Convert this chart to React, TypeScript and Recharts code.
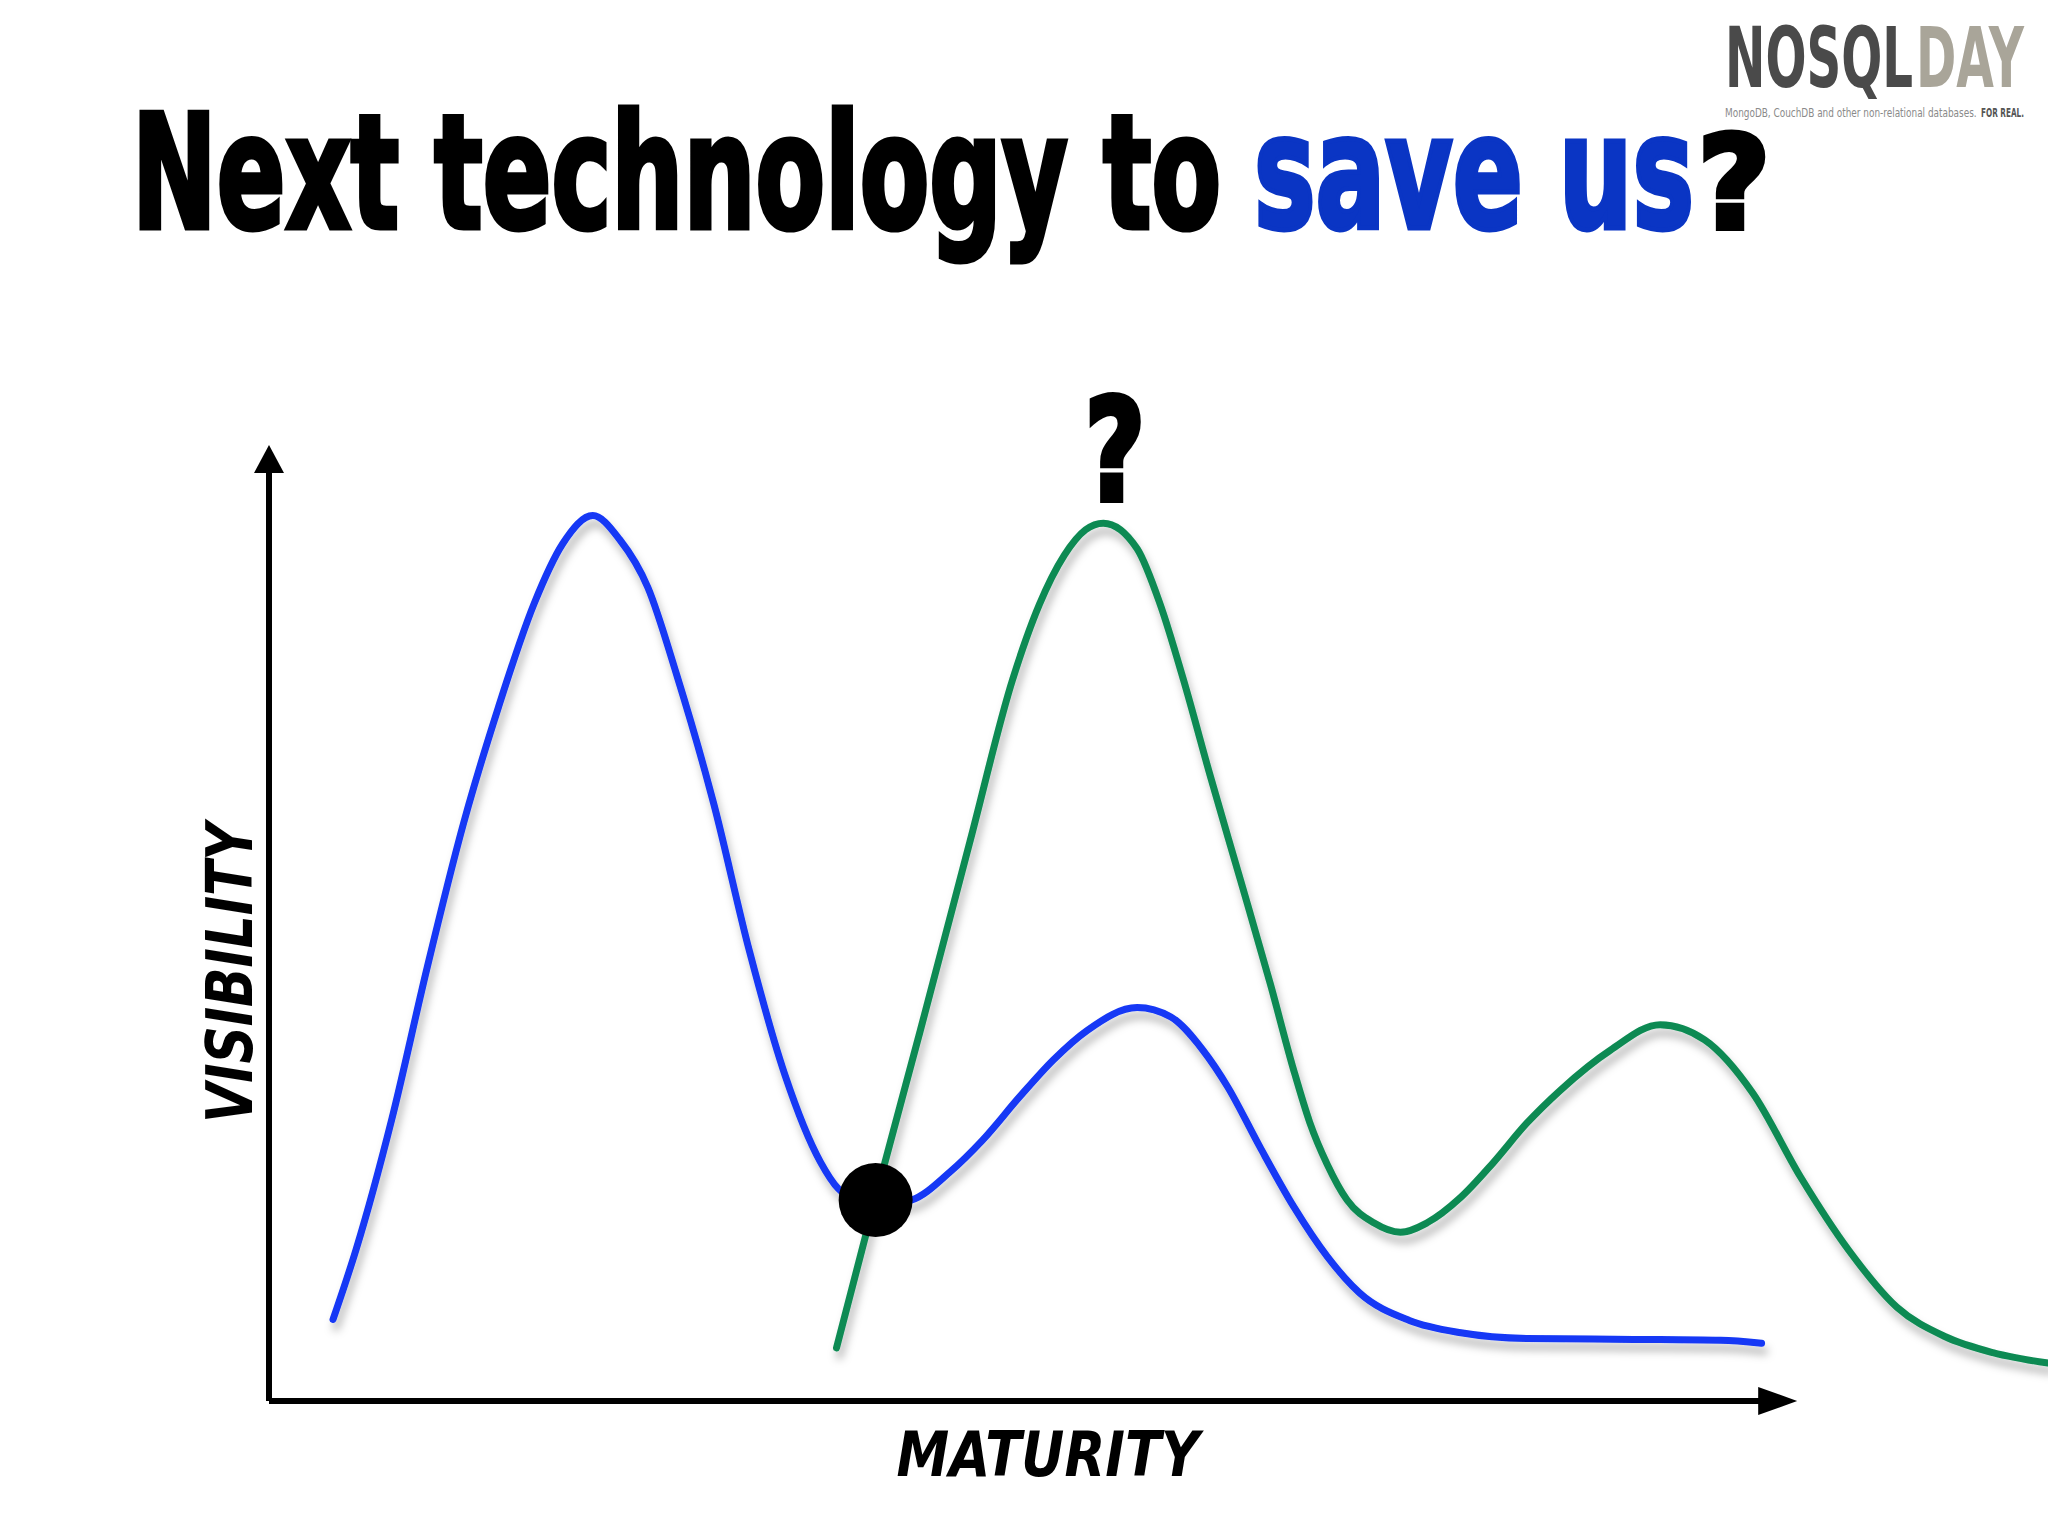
import React, { useLayoutEffect, useRef, useState } from 'react';
import { LineChart, Line, XAxis, YAxis, ReferenceLine, ReferenceDot } from 'recharts';

// maturity (x) / visibility (y), both on a 0-100 scale
const blueMaturity = [3.6, 4.9, 6.9, 8.9, 10.9, 12.9, 14.9, 16.5, 18.2, 19.7, 21.3, 22.9, 25.0, 27.0, 29.0, 31.0, 32.0, 33.9, 36.1, 38.3, 40.1, 42.2, 44.1, 46.0, 48.8, 50.7, 52.5, 53.9, 55.7, 57.6, 59.5, 61.3, 64.1, 67.0, 70.7, 76.7, 81.6, 83.9];
const blueVisibility = [8.6, 16.0, 29.7, 45.8, 60.7, 73.2, 84.1, 90.4, 93.4, 90.9, 85.8, 76.7, 63.0, 47.5, 34.4, 25.2, 22.4, 20.6, 21.2, 24.2, 27.5, 32.1, 36.0, 39.1, 41.5, 40.5, 37.0, 33.1, 26.8, 20.5, 15.2, 11.4, 8.5, 7.2, 6.6, 6.5, 6.4, 6.1];

const greenMaturity = [31.9, 34.1, 36.6, 39.4, 41.8, 43.3, 44.7, 45.9, 46.9, 48.8, 50.1, 51.4, 52.9, 54.6, 56.3, 57.6, 58.5, 59.5, 60.6, 62.1, 63.6, 65.1, 67.0, 68.8, 70.7, 72.6, 75.4, 78.2, 80.7, 83.4, 86.1, 88.8, 91.5, 94.2, 96.9, 100];
const greenVisibility = [5.6, 21.5, 39.0, 59.0, 76.1, 84.0, 89.2, 91.9, 92.6, 89.9, 84.0, 76.1, 66.0, 55.0, 43.9, 34.9, 29.4, 24.9, 21.2, 18.8, 17.8, 18.8, 21.5, 25.1, 29.3, 32.8, 37.0, 39.7, 38.1, 32.5, 23.6, 15.9, 9.9, 6.8, 5.1, 4.0];

// where the old hype curve meets the new one
const crossing = { m: 34.1, v: 21.2 };
const xAxisEnd = 85.9;

const blueData = blueMaturity.map((m, i) => ({ m, v: blueVisibility[i] }));
const greenData = greenMaturity.map((m, i) => ({ m, v: greenVisibility[i] }));

const BLUE = '#1437f5';
const GREEN = '#0b8a52';
const TITLE_BLUE = '#0a35c4';
const HEAVY = '"DejaVu Sans Condensed", "DejaVu Sans", sans-serif';
const HAND = '"DejaVu Sans", "Liberation Sans", sans-serif';

// squeezes a text horizontally so it takes the given width
function FitText({ x, y, width, rotate = 0, anchor = 'start', children, ...rest }: any) {
  const ref = useRef<SVGTextElement>(null);
  const [k, setK] = useState(1);
  useLayoutEffect(() => {
    if (ref.current) {
      const w = ref.current.getComputedTextLength();
      if (w > 0) setK(width / w);
    }
  }, [width, children]);
  return (
    <g transform={`translate(${x},${y}) rotate(${rotate}) scale(${k},1)`}>
      <text ref={ref} x={0} y={0} textAnchor={anchor} {...rest}>
        {children}
      </text>
    </g>
  );
}

const UpArrow = (p: any) => (
  <polygon points={`${p.cx},${p.cy - 8} ${p.cx - 15},${p.cy + 20} ${p.cx + 15},${p.cy + 20}`} fill="#000" />
);
const RightArrow = (p: any) => (
  <polygon points={`${p.cx},${p.cy} ${p.cx - 39},${p.cy - 14} ${p.cx - 39},${p.cy + 14}`} fill="#000" />
);

export default function App() {
  return (
    <div style={{ position: 'absolute', left: 0, top: 0, width: 2048, height: 1536, background: '#fff', overflow: 'hidden' }}>
      <svg width={2048} height={1536} style={{ position: 'absolute', left: 0, top: 0 }}>
        <defs>
          <filter id="lineShadow" x="-10%" y="-10%" width="120%" height="130%">
            <feDropShadow dx="3" dy="8" stdDeviation="4" floodColor="#000" floodOpacity="0.28" />
          </filter>
        </defs>
        {/* title */}
        <FitText x={132} y={228} width={1089} fontFamily={HEAVY} fontWeight="bold" fontSize={158} fill="#000" stroke="#000" strokeWidth={5}>
          Next technology to
        </FitText>
        <FitText x={1254} y={228} width={440} fontFamily={HEAVY} fontWeight="bold" fontSize={158} fill={TITLE_BLUE} stroke={TITLE_BLUE} strokeWidth={5}>
          save us
        </FitText>
        <FitText x={1698} y={228} width={72} fontFamily={HEAVY} fontWeight="bold" fontSize={128} fill="#000" stroke="#000" strokeWidth={6}>
          ?
        </FitText>
        {/* logo */}
        <FitText x={1725} y={87} width={188} fontFamily={HEAVY} fontWeight="bold" fontSize={84} fill="#4a4a4a">
          NOSQL
        </FitText>
        <FitText x={1916} y={87} width={108} fontFamily={HEAVY} fontWeight="bold" fontSize={84} fill="#a9a599">
          DAY
        </FitText>
        <FitText x={1725} y={117} width={252} fontFamily={HEAVY} fontSize={12.5} fill="#8a8a8a">
          MongoDB, CouchDB and other non-relational databases.
        </FitText>
        <FitText x={1981} y={117} width={43} fontFamily={HEAVY} fontWeight="bold" fontSize={12.5} fill="#555">
          FOR REAL.
        </FitText>
        {/* question mark over the new peak */}
        <FitText x={1085} y={500} width={60} fontFamily={HEAVY} fontWeight="bold" fontSize={141} fill="#000" stroke="#000" strokeWidth={6}>
          ?
        </FitText>
        {/* axis labels */}
        <FitText x={1048} y={1476} width={303} anchor="middle" fontFamily={HAND} fontWeight="bold" fontStyle="italic" fontSize={62} fill="#000">
          MATURITY
        </FitText>
        <FitText x={252} y={973} width={300} rotate={-90} anchor="middle" fontFamily={HAND} fontWeight="bold" fontStyle="italic" fontSize={64} fill="#000">
          VISIBILITY
        </FitText>
      </svg>
      <div style={{ position: 'absolute', left: 0, top: 0 }}>
        <LineChart width={2048} height={1536} margin={{ top: 453, right: 0, bottom: 135, left: 269 }}>
          <XAxis dataKey="m" type="number" domain={[0, 100]} hide allowDataOverflow />
          <YAxis type="number" domain={[0, 100]} hide allowDataOverflow />
          <ReferenceLine segment={[{ x: 0, y: 0 }, { x: 0, y: 100 }]} stroke="#000" strokeWidth={6} ifOverflow="visible" />
          <ReferenceLine segment={[{ x: 0, y: 0 }, { x: xAxisEnd - 2, y: 0 }]} stroke="#000" strokeWidth={6} ifOverflow="visible" />
          <ReferenceDot x={0} y={100} r={1} shape={UpArrow} ifOverflow="visible" />
          <ReferenceDot x={xAxisEnd} y={0} r={1} shape={RightArrow} ifOverflow="visible" />
          <Line data={blueData} dataKey="v" type="monotone" stroke={BLUE} strokeWidth={7} strokeLinecap="round" dot={false} isAnimationActive={false} filter="url(#lineShadow)" />
          <Line data={greenData} dataKey="v" type="monotone" stroke={GREEN} strokeWidth={7} strokeLinecap="round" dot={false} isAnimationActive={false} filter="url(#lineShadow)" />
          <ReferenceDot x={crossing.m} y={crossing.v} r={37} fill="#000" stroke="none" ifOverflow="visible" />
        </LineChart>
      </div>
    </div>
  );
}
